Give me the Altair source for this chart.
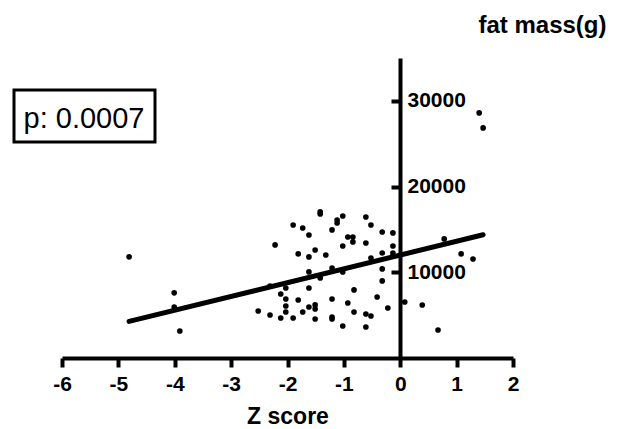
import altair as alt
import pandas as pd

z_score = [-4.81, -4.01, -4.01, -3.91, -2.52, -2.31, -2.31, -2.22, -2.12, -2.12,
           -2.03, -2.03, -2.03, -2.03, -1.90, -1.90, -1.81, -1.81, -1.73, -1.73,
           -1.62, -1.62, -1.62, -1.62, -1.62, -1.51, -1.51, -1.51, -1.51, -1.42,
           -1.42, -1.42, -1.32, -1.21, -1.21, -1.21, -1.21, -1.21, -1.12, -1.12,
           -1.02, -1.02, -1.02, -1.02, -0.93, -0.93, -0.84, -0.84, -0.82, -0.82,
           -0.61, -0.61, -0.61, -0.61, -0.52, -0.52, -0.52, -0.41, -0.32, -0.32,
           -0.32, -0.32, -0.22, -0.13, -0.13, -0.13, -0.13, 0.08, 0.39, 0.67,
           0.78, 1.08, 1.29, 1.40, 1.47]
fat_mass = [11800, 7600, 5950, 3150, 5480, 8400, 5020, 13190, 7470, 4670,
            8170, 6880, 6070, 5370, 15520, 4670, 12140, 6770, 15170, 5370,
            14350, 11790, 10040, 8170, 5950, 12600, 6190, 5720, 4550, 17040,
            16800, 9340, 12020, 14940, 10500, 6880, 4780, 4550, 16100, 15750,
            16570, 13070, 10040, 3730, 14120, 6420, 14120, 13540, 7940, 5370,
            16450, 13420, 5130, 3620, 15520, 11670, 4900, 7120, 14700, 12250,
            10390, 8990, 5830, 14590, 13070, 12250, 11900, 6530, 6180, 3270,
            13890, 12140, 11550, 28590, 26840]

x_ticks = [-6, -5, -4, -3, -2, -1, 0, 1, 2]
y_ticks = [10000, 20000, 30000]
annotation = ["p: 0.0007"]

df = pd.DataFrame({"z": z_score, "fat": fat_mass})
FONT = "Liberation Sans"

xs = alt.Scale(domain=[-6, 2], nice=False, zero=False)
ys = alt.Scale(domain=[0, 35000], nice=False)

x_enc = alt.X("z:Q", scale=xs, axis=alt.Axis(
    values=x_ticks, title="Z score", grid=False, domainWidth=4, domainColor="black",
    tickWidth=4, tickColor="black", tickSize=9, labelFont=FONT, labelFontSize=21,
    labelFontWeight="bold", labelColor="black", labelPadding=6, labelFlush=False,
    labelExpr="'' + datum.value",
    titleFont=FONT, titleFontSize=23, titleFontWeight="bold", titleColor="black",
    titlePadding=11))
y_enc = alt.Y("fat:Q", scale=ys, axis=alt.Axis(
    values=y_ticks, title="fat mass(g)", grid=False, orient="left", offset=-338,
    domainWidth=4, domainColor="black", tickWidth=4, tickColor="black", tickSize=9,
    labelFont=FONT, labelFontSize=21, labelFontWeight="bold", labelColor="black",
    labelAlign="left", labelBaseline="middle", labelPadding=-16,
    labelExpr="'' + datum.value",
    titleFont=FONT, titleFontSize=24, titleFontWeight="bold", titleColor="black",
    titleAngle=0, titleAlign="right", titleBaseline="alphabetic",
    titleX=206, titleY=-26))

points = alt.Chart(df).mark_circle(size=32, color="black", opacity=1).encode(x=x_enc, y=y_enc)

reg = alt.Chart(df).transform_regression("z", "fat").mark_line(
    color="black", strokeWidth=5, strokeCap="round").encode(
    x=alt.X("z:Q", scale=xs), y=alt.Y("fat:Q", scale=ys))

box = alt.Chart(pd.DataFrame({"label": annotation})).mark_rect(
    fill="white", stroke="black", strokeWidth=3).encode(
    x=alt.value(-48), x2=alt.value(93), y=alt.value(32), y2=alt.value(84))

txt = alt.Chart(pd.DataFrame({"label": annotation})).mark_text(
    font=FONT, fontSize=29, color="black", align="center", baseline="alphabetic").encode(
    x=alt.value(22), y=alt.value(70), text="label:N")

chart = alt.layer(reg, points, box, txt).properties(
    width=451, height=300,
    autosize=alt.AutoSizeParams(type="none"),
    padding={"left": 62, "top": 58, "right": 104, "bottom": 71},
).configure_view(stroke=None)

chart.save("out.html", embed_options={"renderer": "svg", "actions": False})
